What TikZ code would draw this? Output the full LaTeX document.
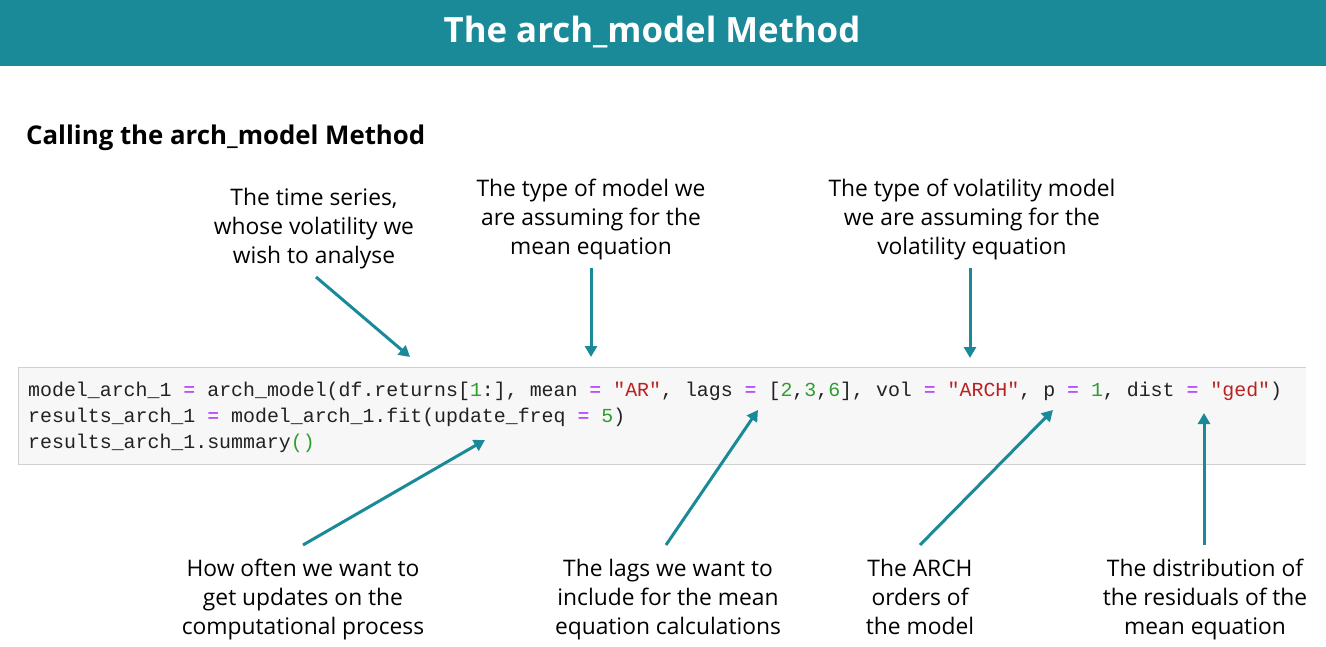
\documentclass[tikz,border=0pt]{standalone}
\usepackage{fontspec}
\setmainfont{Open Sans}
\setmonofont{Liberation Mono}
\usetikzlibrary{arrows.meta}
\definecolor{teal}{HTML}{1A8A99}
\definecolor{boxfill}{HTML}{F7F7F7}
\definecolor{boxline}{HTML}{D0D0D0}
\definecolor{cpurple}{HTML}{AA22FF}
\definecolor{cgreen}{HTML}{2E9E2E}
\definecolor{cred}{HTML}{BA2121}
\definecolor{ctext}{HTML}{222222}
\newcommand\ceq{\textcolor{cpurple}{=}}
\newcommand\cnum[1]{\textcolor{cgreen}{#1}}
\newcommand\cstr[1]{\textcolor{cred}{#1}}
\begin{document}
\begin{tikzpicture}[x=1pt,y=-1pt,
  label/.style={align=center,font=\fontsize{22.8}{29}\selectfont,text=black,inner sep=0pt},
  codeline/.style={anchor=west,inner sep=0pt,font=\ttfamily\fontsize{19.9}{24}\selectfont,text=ctext},
  pointer/.style={draw=teal,line width=3pt,-{Triangle[length=11pt,width=12pt]}}]
\useasboundingbox (0,0) rectangle (1326,647);
\fill[white] (0,0) rectangle (1326,647);
% header
\fill[teal] (0,0) rectangle (1326,66);
\node[font=\bfseries\fontsize{34.8}{38}\selectfont,text=white,inner sep=0pt] (title) at (652,32) {The arch\_model Method};
\node[font=\bfseries\fontsize{25.8}{30}\selectfont,anchor=west,inner sep=0pt] (subtitle) at (26,138) {Calling the arch\_model Method};
% code box
\fill[boxfill] (18,367) rectangle (1306,464);
\draw[boxline,line width=1pt] (1306,367) -- (18,367) -- (18,464) -- (1306,464);
\node[codeline] (code1) at (28,391) {model\_arch\_1 \ceq{} arch\_model(df.returns[\cnum{1}:], mean \ceq{} \cstr{"AR"}, lags \ceq{} [\cnum{2},\cnum{3},\cnum{6}], vol \ceq{} \cstr{"ARCH"}, p \ceq{} \cnum{1}, dist \ceq{} \cstr{"ged"})};
\node[codeline] (code2) at (28,417) {results\_arch\_1 \ceq{} model\_arch\_1.fit(update\_freq \ceq{} \cnum{5})};
\node[codeline] (code3) at (28,443) {results\_arch\_1.summary\cnum{()}};
% labels top
\node[label] (ts) at (314,229) {\strut The time series,\\\strut whose volatility we\\\strut wish to analyse};
\node[label] (mean) at (591,220) {\strut The type of model we\\\strut are assuming for the\\\strut mean equation};
\node[label] (vol) at (972,220) {\strut The type of volatility model\\\strut we are assuming for the\\\strut volatility equation};
% labels bottom
\node[label] (upd) at (303,600) {\strut How often we want to\\\strut get updates on the\\\strut computational process};
\node[label] (lags) at (668,600) {\strut The lags we want to\\\strut include for the mean\\\strut equation calculations};
\node[label] (arch) at (920,600) {\strut The ARCH\\\strut orders of\\\strut the model};
\node[label] (dist) at (1205,600) {\strut The distribution of\\\strut the residuals of the\\\strut mean equation};
% arrow ends
\coordinate (tsA) at (316,277); \coordinate (tsB) at (410,357);
\coordinate (meanA) at (591,268); \coordinate (meanB) at (591,357);
\coordinate (volA) at (970,268); \coordinate (volB) at (970,358);
\coordinate (updA) at (303,545); \coordinate (updB) at (485,440);
\coordinate (lagsA) at (666,545); \coordinate (lagsB) at (758,410);
\coordinate (archA) at (920,545); \coordinate (archB) at (1053,410);
\coordinate (distA) at (1204,545); \coordinate (distB) at (1204,413);
\draw[pointer] (tsA) -- (tsB);
\draw[pointer] (meanA) -- (meanB);
\draw[pointer] (volA) -- (volB);
\draw[pointer] (updA) -- (updB);
\draw[pointer] (lagsA) -- (lagsB);
\draw[pointer] (archA) -- (archB);
\draw[pointer] (distA) -- (distB);
\end{tikzpicture}
\end{document}
